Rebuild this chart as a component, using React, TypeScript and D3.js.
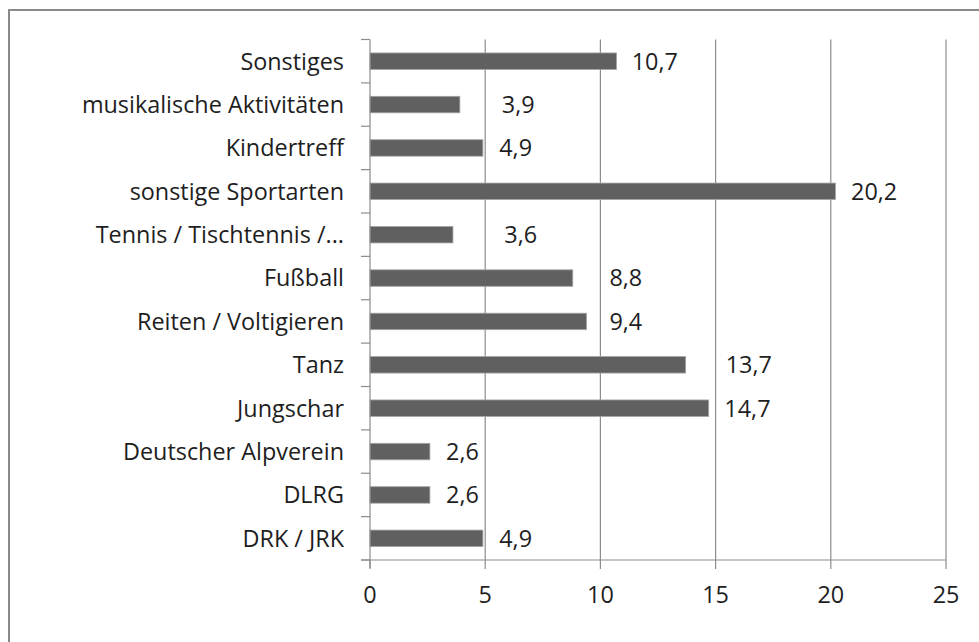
import React from "react";
import * as d3 from "d3";

const categories = [
  "Sonstiges",
  "musikalische Aktivitäten",
  "Kindertreff",
  "sonstige Sportarten",
  "Tennis / Tischtennis /...",
  "Fußball",
  "Reiten / Voltigieren",
  "Tanz",
  "Jungschar",
  "Deutscher Alpverein",
  "DLRG",
  "DRK / JRK",
];
const values = [10.7, 3.9, 4.9, 20.2, 3.6, 8.8, 9.4, 13.7, 14.7, 2.6, 2.6, 4.9];
// where each value label starts (in axis units)
const labelAt = [11.36, 5.72, 5.61, 20.88, 5.83, 10.39, 10.39, 15.44, 15.38, 3.3, 3.3, 5.61];
const xTicks = [0, 5, 10, 15, 20, 25];

const W = 979;
const H = 642;
const FONT = "'Open Sans', sans-serif";
const FS = 23.4;

export default function App() {
  const x = d3.scaleLinear().domain([0, 25]).range([370, 946]);
  const y = d3
    .scaleBand<string>()
    .domain(categories)
    .range([39.5, 560])
    .paddingInner(0.62)
    .paddingOuter(0.31);
  const step = y.step();
  const fmt = (v: number) => d3.format(".1f")(v).replace(".", ",");
  const grid = "#8c8c8c";
  const textColor = "#1e1e1e";
  const boundaries = d3.range(categories.length + 1).map((i) => 39.5 + i * step);

  return (
    <svg
      width={W}
      height={H}
      style={{ position: "absolute", left: 0, top: 0, background: "#fff" }}
    >
      <rect x={9} y={10} width={1100} height={800} fill="#fff" stroke="#8a8a8a" strokeWidth={2} />
      {xTicks.slice(1).map((t) => (
        <line key={"g" + t} x1={x(t)} x2={x(t)} y1={39.5} y2={560} stroke={grid} strokeWidth={1.2} />
      ))}
      {categories.map((c, i) => (
        <rect
          key={"b" + c}
          x={x(0)}
          y={y(c)!}
          width={x(values[i]) - x(0)}
          height={y.bandwidth()}
          fill="#606060"
          stroke="#a4a4a4"
          strokeWidth={0.8}
        />
      ))}
      {/* y axis */}
      <line x1={x(0)} x2={x(0)} y1={39.5} y2={568} stroke={grid} strokeWidth={1.2} />
      {boundaries.map((b, i) => (
        <line key={"yt" + i} x1={361} x2={x(0)} y1={b} y2={b} stroke={grid} strokeWidth={1.2} />
      ))}
      {/* x axis */}
      <line x1={361} x2={x(25)} y1={560} y2={560} stroke={grid} strokeWidth={1.2} />
      {xTicks.map((t) => (
        <line key={"xt" + t} x1={x(t)} x2={x(t)} y1={560} y2={569} stroke={grid} strokeWidth={1.2} />
      ))}
      {xTicks.map((t) => (
        <text
          key={"xl" + t}
          x={x(t)}
          y={603}
          textAnchor="middle"
          fontFamily={FONT}
          fontSize={FS}
          fill={textColor}
        >
          {t}
        </text>
      ))}
      {categories.map((c) => (
        <text
          key={"yl" + c}
          x={344}
          y={y(c)! + y.bandwidth() / 2}
          dy="0.36em"
          textAnchor="end"
          fontFamily={FONT}
          fontSize={FS}
          fill={textColor}
        >
          {c}
        </text>
      ))}
      {categories.map((c, i) => (
        <text
          key={"vl" + c}
          x={x(labelAt[i])}
          y={y(c)! + y.bandwidth() / 2}
          dy="0.36em"
          fontFamily={FONT}
          fontSize={FS}
          fill={textColor}
        >
          {fmt(values[i])}
        </text>
      ))}
    </svg>
  );
}
